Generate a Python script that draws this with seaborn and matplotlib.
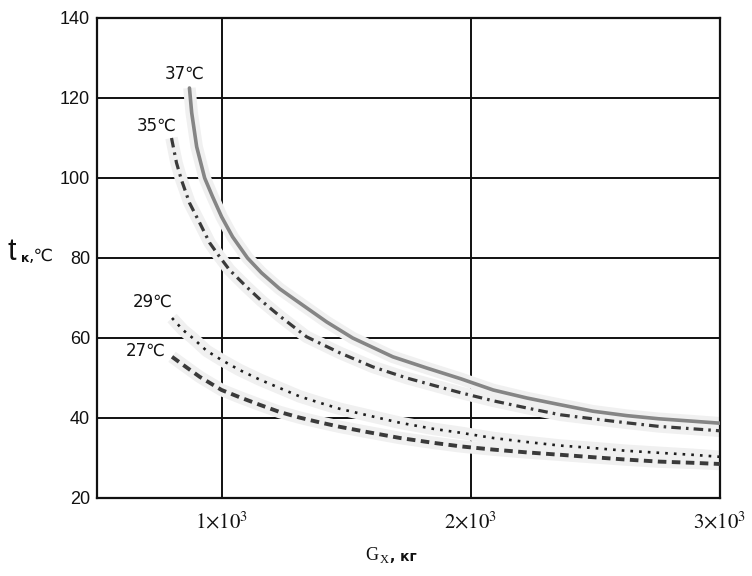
import numpy as np
import pandas as pd
import matplotlib
matplotlib.use("Agg")
import matplotlib.pyplot as plt
import seaborn as sns

# curves: G (kg) -> t_k (°C)
g37 = [871, 880, 900, 932, 964, 1000, 1044, 1104, 1160, 1233, 1285, 1422, 1526, 1687,
       1823, 1960, 2090, 2225, 2360, 2490, 2625, 2755, 2890, 3000]
t37 = [122.5, 116.3, 107.8, 100, 95.3, 90.3, 85.3, 80, 76.3, 72.3, 70, 64, 60, 55.3,
       52.5, 49.8, 47, 45, 43.3, 41.7, 40.6, 39.8, 39.2, 38.7]

g35 = [799, 819, 839, 871, 912, 952, 992, 1032, 1100, 1160, 1233, 1341, 1474, 1606,
       1743, 1960, 2090, 2225, 2360, 2490, 2625, 2755, 2890, 3000]
t35 = [110, 103.8, 99.5, 93.8, 88.8, 83.8, 80.3, 77, 72.8, 69.3, 65.5, 60.3, 56.3, 52.8,
       50, 46.3, 44.3, 42.5, 40.8, 39.8, 38.8, 37.9, 37.3, 36.8]

g29 = [801, 845, 884, 940, 1000, 1072, 1153, 1233, 1313, 1394, 1474, 1584, 1716, 1849,
       1960, 2090, 2225, 2360, 2490, 2625, 2755, 2890, 3000]
t29 = [65, 62, 60, 56.8, 54.5, 52, 49.6, 47.5, 45.4, 43.8, 42.3, 40.7, 38.8, 37.3,
       36.3, 35, 34, 33.1, 32.5, 31.8, 31.3, 30.8, 30.3]

g27 = [801, 845, 912, 1000, 1072, 1153, 1233, 1313, 1394, 1474, 1584, 1716, 1849, 1960,
       2090, 2225, 2360, 2490, 2625, 2755, 2890, 3000]
t27 = [55.3, 53.3, 50.3, 47, 45.2, 43.3, 41.5, 40.1, 38.9, 37.8, 36.5, 35, 33.8, 32.9,
       32.1, 31.4, 30.8, 30.2, 29.6, 29.1, 28.8, 28.5]

labels = ["37℃", "35℃", "29℃", "27℃"]
label_pos = [(851, 126), (739, 113), (723, 69), (695, 56.75)]

xticks = [1000, 2000, 3000]
xtick_labels = [r"$1{\times}10^{3}$", r"$2{\times}10^{3}$", r"$3{\times}10^{3}$"]
yticks = [20, 40, 60, 80, 100, 120, 140]

df = pd.concat([
    pd.DataFrame({"G": g37, "t": t37, "curve": "37"}),
    pd.DataFrame({"G": g35, "t": t35, "curve": "35"}),
    pd.DataFrame({"G": g29, "t": t29, "curve": "29"}),
    pd.DataFrame({"G": g27, "t": t27, "curve": "27"}),
], ignore_index=True)

sns.set_style("white")
plt.rcParams["font.family"] = ["Liberation Sans", "DejaVu Sans"]
plt.rcParams["mathtext.fontset"] = "stix"

fig = plt.figure(figsize=(7.52, 5.76), dpi=100)
ax = fig.add_axes([97 / 752, 1 - 498 / 576, 623 / 752, 480 / 576])

styles = {
    "37": dict(color="#858585", lw=2.6, ls="-"),
    "35": dict(color="#3a3a3a", lw=2.3, ls=(0, (3, 1.6, 0.8, 1.6))),
    "29": dict(color="#1e1e1e", lw=1.9, ls=(0, (1, 2.3))),
    "27": dict(color="#3a3a3a", lw=2.8, ls=(0, (2.2, 1.4))),
}

# faint halo under each curve
for key in styles:
    sub = df[df.curve == key]
    sns.lineplot(data=sub, x="G", y="t", ax=ax, color="#f0f0f0", lw=9,
                 solid_capstyle="butt", solid_joinstyle="round", zorder=1, sort=False)

for key, st in styles.items():
    sub = df[df.curve == key]
    sns.lineplot(data=sub, x="G", y="t", ax=ax, color=st["color"], lw=st["lw"],
                 linestyle=st["ls"], solid_joinstyle="round", zorder=3, sort=False)

for lab, (gx, ty) in zip(labels, label_pos):
    ax.text(gx, ty, lab, ha="center", va="center", fontsize=12, color="#111111",
            family=["DejaVu Sans"], zorder=4)

ax.set_xlim(500, 3000)
ax.set_ylim(20, 140)
ax.set_xticks(xticks)
ax.set_xticklabels(xtick_labels, fontsize=15)
ax.set_yticks(yticks)
ax.set_yticklabels([str(v) for v in yticks], fontsize=13)
ax.tick_params(axis="both", length=0, colors="#111111")
ax.tick_params(axis="x", pad=9)
ax.tick_params(axis="y", pad=5)
ax.grid(True, color="#111111", lw=1.4, zorder=2)
ax.set_axisbelow(True)
for sp in ax.spines.values():
    sp.set_color("#111111")
    sp.set_linewidth(1.6)
ax.set_xlabel("")
ax.set_ylabel("")

# axis titles
fig.text(372 / 752, 1 - 556 / 576, "G", family=["Liberation Serif"], fontsize=13,
         ha="center", va="center", color="#111111")
fig.text(384 / 752, 1 - 560 / 576, "X", family=["Liberation Serif"], fontsize=9,
         ha="center", va="center", color="#111111")
fig.text(403 / 752, 1 - 557 / 576, ", кг", family=["DejaVu Sans"], fontsize=10,
         weight="bold", ha="center", va="center", color="#111111")

fig.text(8 / 752, 1 - 252 / 576, "t", fontsize=22, ha="left", va="center", color="#111111")
fig.text(21 / 752, 1 - 259 / 576, "к", fontsize=9, weight="bold", family=["DejaVu Sans"],
         ha="left", va="center", color="#111111")
fig.text(29 / 752, 1 - 256 / 576, ",℃", fontsize=12.5, family=["DejaVu Sans"],
         ha="left", va="center", color="#111111")

fig.savefig("out.png", dpi=100, facecolor="white")
